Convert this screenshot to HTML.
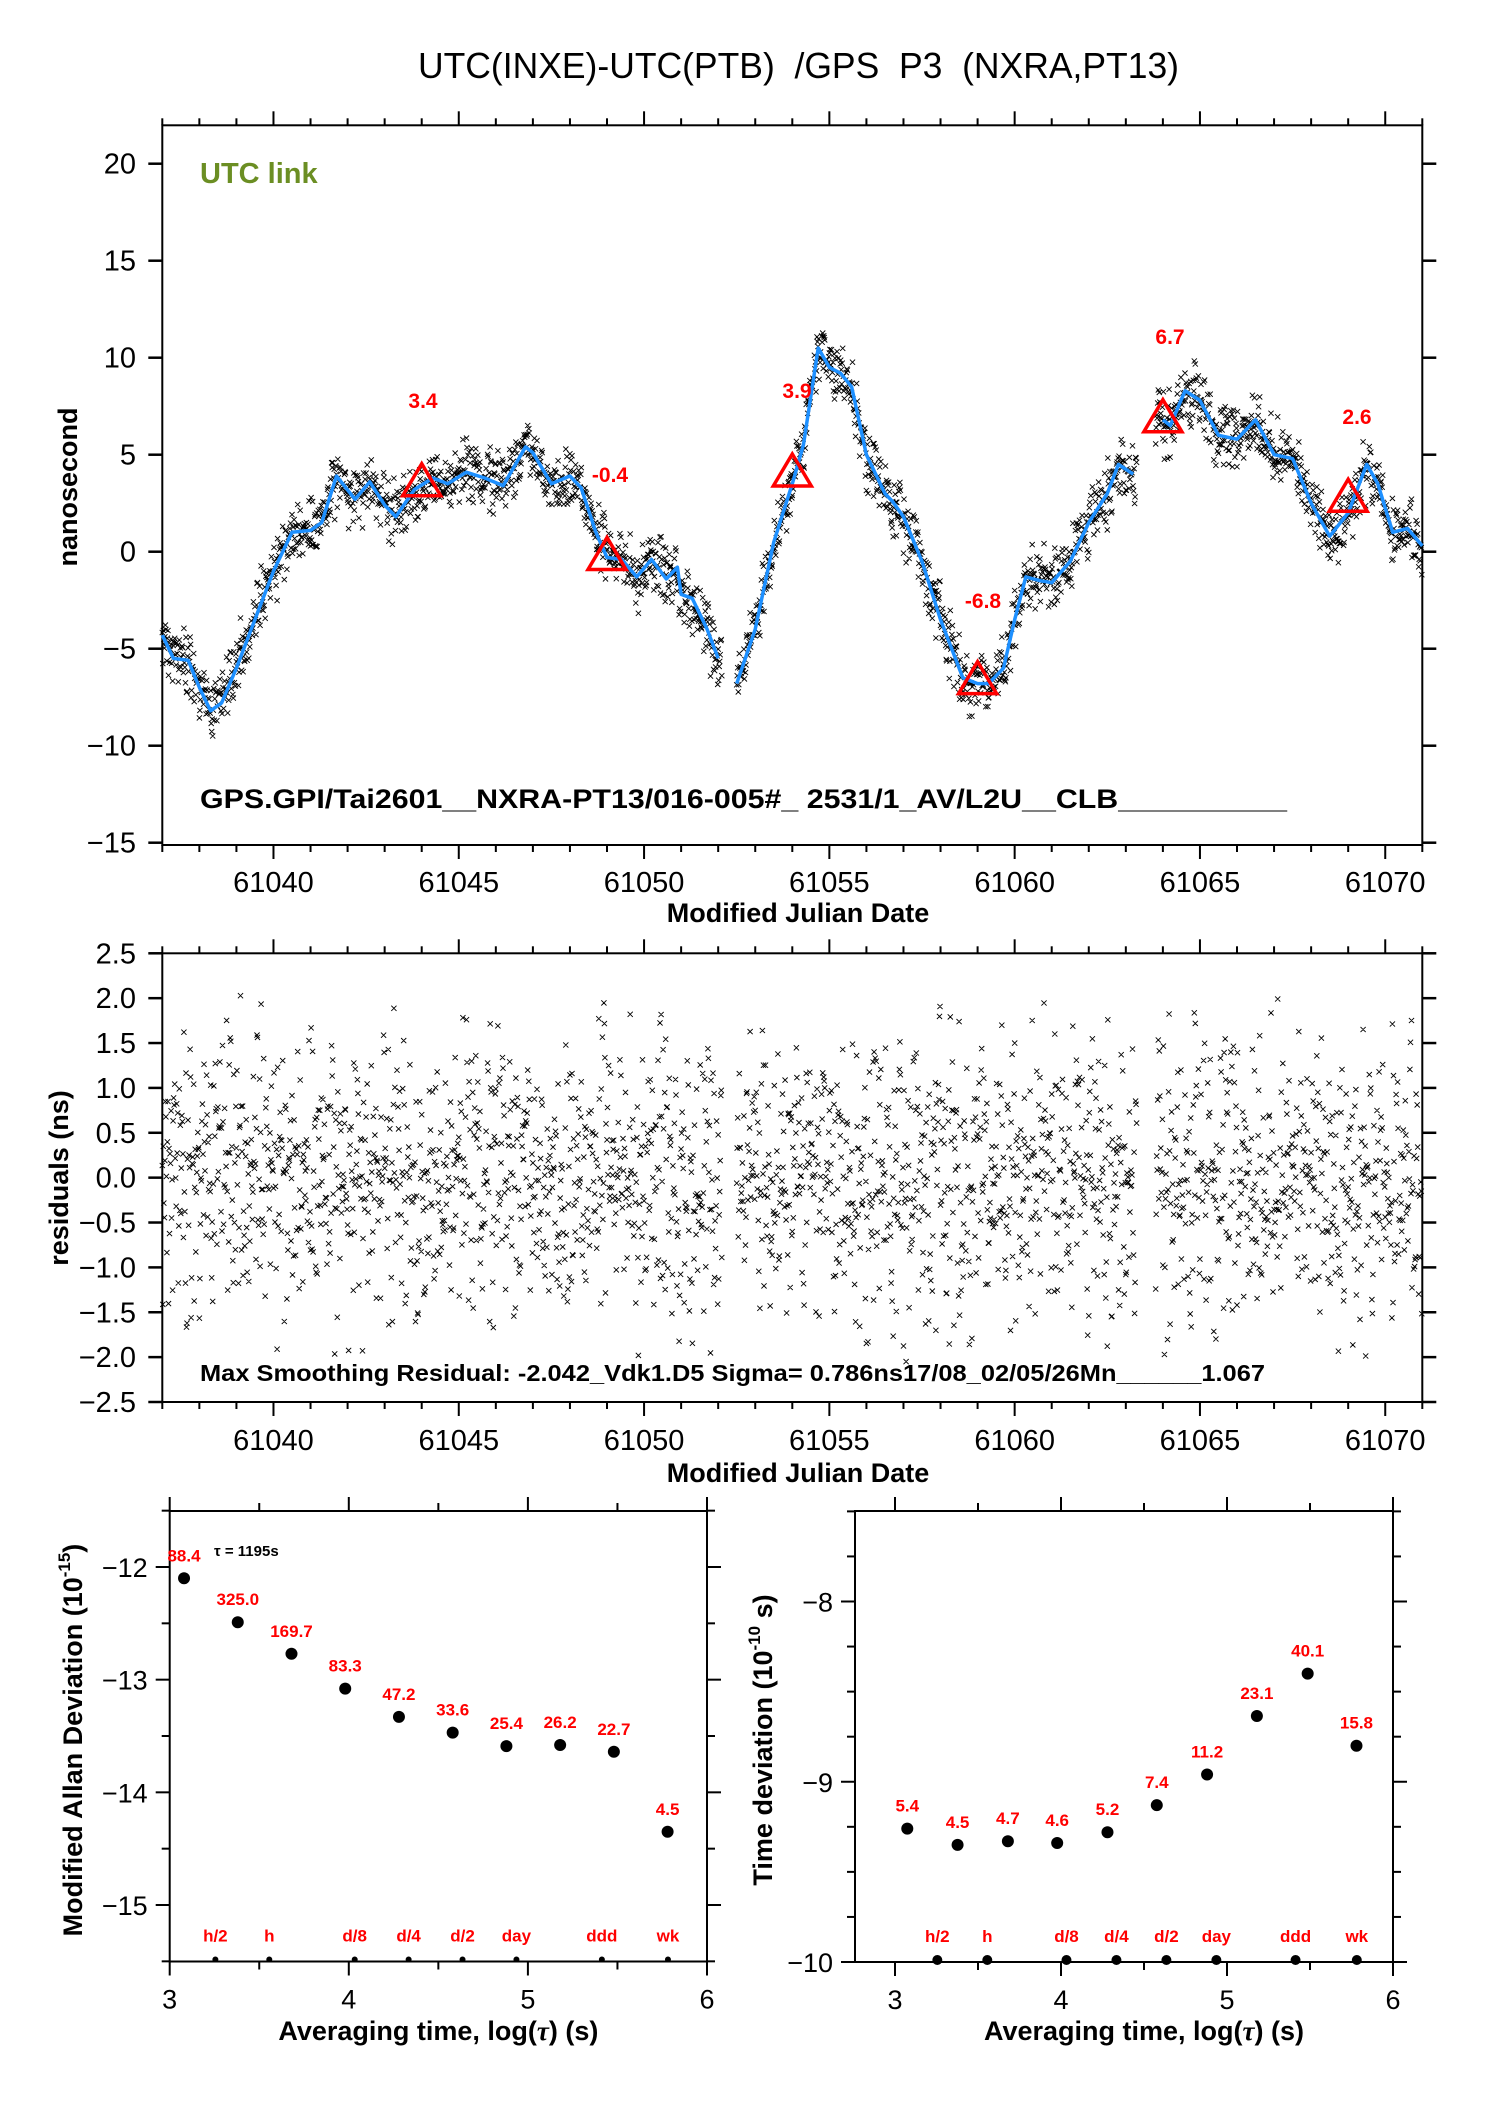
<!DOCTYPE html>
<html><head><meta charset="utf-8"><title>UTC(INXE)-UTC(PTB) GPS P3</title>
<style>
html,body{margin:0;padding:0;background:#fff;}
svg{display:block;font-family:"Liberation Sans",Arial,sans-serif;}
</style></head>
<body>
<svg id="fig" xmlns="http://www.w3.org/2000/svg" width="1488" height="2105" viewBox="0 0 1488 2105">
<rect width="1488" height="2105" fill="#fff"/>
<text x="418" y="78" font-size="36" textLength="761" lengthAdjust="spacingAndGlyphs" xml:space="preserve">UTC(INXE)-UTC(PTB)  /GPS  P3  (NXRA,PT13)</text>
<g id="top"></g>
<g id="mid"></g>
<g id="mdev"></g>
<g id="tdev"></g>
</svg>
<script>
// ---------- data ----------
const curveDays = [61037.0,61037.3,61037.7,61038.0,61038.3,61038.6,61039.0,61039.5,61040.0,61040.5,61041.0,61041.3,61041.7,61042.2,61042.6,61043.0,61043.3,61043.8,61044.3,61044.7,61045.2,61045.7,61046.2,61046.8,61047.0,61047.5,61048.0,61048.3,61048.7,61049.0,61049.4,61049.8,61050.2,61050.6,61050.9,61051.0,61051.3,61051.7,61052.0,61052.1,61052.5,61053.0,61053.5,61054.0,61054.3,61054.7,61055.0,61055.3,61055.6,61056.0,61056.5,61056.7,61057.0,61057.5,61058.0,61058.3,61058.6,61059.0,61059.3,61059.7,61060.0,61060.3,61060.7,61061.0,61061.5,61062.0,61062.5,61062.8,61063.2,61063.5,61064.0,61064.2,61064.6,61065.0,61065.5,61066.0,61066.5,61067.0,61067.5,61068.0,61068.5,61069.0,61069.5,61069.8,61070.2,61070.6,61071.0];
const curveNs   = [-4.3,-5.5,-5.6,-7.0,-8.2,-7.8,-6.0,-3.5,-1.0,1.0,1.1,1.5,3.9,2.7,3.6,2.4,1.8,3.2,3.8,3.5,4.1,3.8,3.4,5.4,5.1,3.5,3.9,3.3,1.0,-0.3,-0.4,-1.3,-0.4,-1.4,-0.8,-2.2,-2.4,-4.0,-5.5,null,-6.8,-4.0,0.5,3.5,5.5,10.5,9.5,9.2,8.5,5.0,3.0,2.6,1.8,-0.5,-3.5,-5.0,-6.5,-6.8,-6.8,-6.0,-3.5,-1.3,-1.5,-1.6,-0.5,1.5,3.0,4.5,4.0,null,6.8,6.5,8.3,7.8,6.0,5.8,6.8,5.0,4.8,2.5,0.8,2.0,4.5,3.5,1.0,1.2,0.3];
const dataGapsStart = [61052.1,61063.3];
const dataGapsEnd   = [61052.5,61063.8];
const triDays   = [61044,61049,61054,61059,61064,61069];
const triValues = [3.4,-0.4,3.9,-6.8,6.7,2.6];
const mdevLogTau = [3.08,3.38,3.68,3.98,4.28,4.58,4.88,5.18,5.48,5.78];
const mdevValues = [-12.10,-12.49,-12.77,-13.08,-13.33,-13.47,-13.59,-13.58,-13.64,-14.35];
const mdevLabels = ["88.4","325.0","169.7","83.3","47.2","33.6","25.4","26.2","22.7","4.5"];
const tdevLogTau = [3.074,3.377,3.68,3.977,4.28,4.577,4.88,5.18,5.486,5.78];
const tdevValues = [-9.26,-9.35,-9.33,-9.34,-9.28,-9.13,-8.96,-8.635,-8.40,-8.80];
const tdevLabels = ["5.4","4.5","4.7","4.6","5.2","7.4","11.2","23.1","40.1","15.8"];
const markLogTau = [3.255,3.556,4.033,4.334,4.635,4.936,5.413,5.782];
const markNames  = ["h/2","h","d/8","d/4","d/2","day","ddd","wk"];

// ---------- helpers ----------
const NS='http://www.w3.org/2000/svg';
function mk(parent,tag,attrs,txt){const e=document.createElementNS(NS,tag);for(const k in attrs)e.setAttribute(k,attrs[k]);if(txt!==undefined)e.textContent=txt;parent.appendChild(e);return e;}
function lin(d0,d1,p0,p1){return v=>p0+(v-d0)*(p1-p0)/(d1-d0);}

// ---------- time-series axes ----------
const L=162.3,R=1422.3;
const X=lin(61037,61071,L,R);
const topG=document.getElementById('top'), midG=document.getElementById('mid');
const Yt=lin(20,-15,163.7,842.7); const T0=125.3,T1=845;
const Ym=lin(2.5,-2.5,953.3,1402); const M0=953.3,M1=1402;

function frame(g,x0,y0,x1,y1){const r=mk(g,'rect',{x:x0,y:y0,width:x1-x0,height:y1-y0,fill:'none',stroke:'#000','stroke-width':2});
}
function dayTicks(g,y0,y1,labY){
  for(let d=61037;d<=61071;d++){const x=X(d);const maj=d%5===0;const len=maj?14:7;
    mk(g,'line',{x1:x,x2:x,y1:y0,y2:y0-len,stroke:'#000','stroke-width':2});
    mk(g,'line',{x1:x,x2:x,y1:y1,y2:y1+len,stroke:'#000','stroke-width':2});
    if(maj){const t=mk(g,'text',{x:x,y:labY,'font-size':29,'text-anchor':'middle'},String(d));
      }
  }
}
// top panel
frame(topG,L,T0,R,T1);
dayTicks(topG,T0,T1,892);
for(let v=-15;v<=20;v+=5){const y=Yt(v);
  mk(topG,'line',{x1:L,x2:L-14,y1:y,y2:y,stroke:'#000','stroke-width':2.5});
  mk(topG,'line',{x1:R,x2:R+14,y1:y,y2:y,stroke:'#000','stroke-width':2.5});
  const t=mk(topG,'text',{x:136,y:y+10,'font-size':29,'text-anchor':'end'},(v<0?'\u2212':'')+Math.abs(v));
  }
// mid panel
frame(midG,L,M0,R,M1);
dayTicks(midG,M0,M1,1450);
for(let v=-2.5;v<=2.51;v+=0.5){const y=Ym(v);
  mk(midG,'line',{x1:L,x2:L-14,y1:y,y2:y,stroke:'#000','stroke-width':2.5});
  mk(midG,'line',{x1:R,x2:R+14,y1:y,y2:y,stroke:'#000','stroke-width':2.5});
  const s=(v<-0.001?'\u2212':'')+Math.abs(v).toFixed(1);
  const t=mk(midG,'text',{x:136,y:y+10,'font-size':29,'text-anchor':'end'},s);
  }

// curve interpolation
function curveAt(t){for(let i=0;i<curveDays.length-1;i++){if(t>=curveDays[i]&&t<=curveDays[i+1]){
  let a=curveNs[i],b=curveNs[i+1];if(a===null)return b;if(b===null)return a;
  return a+(b-a)*(t-curveDays[i])/(curveDays[i+1]-curveDays[i]);}}return null;}
// residual noise texture (deterministic)
let seed=123456789;
function rnd(){seed^=seed<<13;seed^=seed>>>17;seed^=seed<<5;return ((seed>>>0)%100000)/100000;}
let dTop='',dMid='';
const step=1/72;
for(let t=61037.0;t<=61071;t+=step){
  let gap=false;for(let k=0;k<dataGapsStart.length;k++)if(t>dataGapsStart[k]&&t<dataGapsEnd[k])gap=true;
  if(gap)continue;
  const c=curveAt(t);if(c===null)continue;
  let r=(rnd()+rnd()+rnd()-1.5)*1.55;
  if(r>2.05)r=2.05;if(r<-2.05)r=-2.05;
  const x=X(t),y1=Yt(c+r),y2=Ym(r);const a=2.6;
  dTop+=`M${(x-a).toFixed(1)} ${(y1-a).toFixed(1)}l${2*a} ${2*a}m0 ${-2*a}l${-2*a} ${2*a}`;
  dMid+=`M${(x-a).toFixed(1)} ${(y2-a).toFixed(1)}l${2*a} ${2*a}m0 ${-2*a}l${-2*a} ${2*a}`;
}
const sp1=mk(topG,'path',{d:dTop,stroke:'#000','stroke-width':0.9,fill:'none'});

const sp2=mk(midG,'path',{d:dMid,stroke:'#000','stroke-width':0.9,fill:'none'});

// smooth curve
let segs=[],cur=[];
for(let i=0;i<curveDays.length;i++){if(curveNs[i]===null){if(cur.length)segs.push(cur);cur=[];continue;}
  cur.push(X(curveDays[i]).toFixed(1)+','+Yt(curveNs[i]).toFixed(1));}
if(cur.length)segs.push(cur);
segs.forEach(s=>{const p=mk(topG,'polyline',{points:s.join(' '),fill:'none',stroke:'#1e90ff','stroke-width':3.5,'stroke-linejoin':'round'});
  });
// triangles
const triLabelPos=[[423,408],[610,482],[797,398],[983,608],[1170,344],[1357,424]];
triDays.forEach((d,i)=>{const x=X(d),y=Yt(triValues[i]);
  const p=mk(topG,'polygon',{points:`${x},${y-22} ${x-19},${y+10} ${x+19},${y+10}`,fill:'none',stroke:'#ff0000','stroke-width':3.5});
  
  const t=mk(topG,'text',{x:triLabelPos[i][0],y:triLabelPos[i][1],'font-size':21,'font-weight':'bold',fill:'#ff0000','text-anchor':'middle'},triValues[i].toFixed(1));
  });
let t1=mk(topG,'text',{x:200,y:183,'font-size':29,'font-weight':'bold',fill:'#6b8e23'},'UTC link');

t1=mk(topG,'text',{x:200,y:808,'font-size':27,'font-weight':'bold',textLength:1087,lengthAdjust:'spacingAndGlyphs','xml:space':'preserve'},'GPS.GPI/Tai2601__NXRA-PT13/016-005#_  2531/1_AV/L2U__CLB__________');

t1=mk(topG,'text',{x:798,y:922,'font-size':27,'font-weight':'bold','text-anchor':'middle'},'Modified Julian Date');

t1=mk(topG,'text',{x:0,y:0,'font-size':27,'font-weight':'bold','text-anchor':'middle',transform:'translate(77,487) rotate(-90)'},'nanosecond');

t1=mk(midG,'text',{x:200,y:1381,'font-size':23,'font-weight':'bold',textLength:1065,lengthAdjust:'spacingAndGlyphs','xml:space':'preserve'},'Max Smoothing Residual: -2.042_Vdk1.D5  Sigma= 0.786ns17/08_02/05/26Mn______1.067');

t1=mk(midG,'text',{x:798,y:1482,'font-size':27,'font-weight':'bold','text-anchor':'middle'},'Modified Julian Date');

t1=mk(midG,'text',{x:0,y:0,'font-size':27,'font-weight':'bold','text-anchor':'middle',transform:'translate(68,1178) rotate(-90)'},'residuals (ns)');


// ---------- stability panels ----------
function stabPanel(g,cfg){
  const Xs=lin(3,6,cfg.x3,cfg.x6), Ys=lin(cfg.yA,cfg.yB,cfg.pA,cfg.pB);
  frame(g,cfg.left,cfg.top,cfg.x6,cfg.bot);
  for(let v=3;v<=6;v+=0.5){const x=Xs(v);const maj=Number.isInteger(v);const len=maj?14:8;
    mk(g,'line',{x1:x,x2:x,y1:cfg.top,y2:cfg.top-len,stroke:'#000','stroke-width':2});
    mk(g,'line',{x1:x,x2:x,y1:cfg.bot,y2:cfg.bot+len,stroke:'#000','stroke-width':2});
    if(maj){const t=mk(g,'text',{x:x,y:cfg.bot+47,'font-size':27,'text-anchor':'middle'},String(v));
      }}
  cfg.yTicks.forEach(v=>{const y=Ys(v);const maj=Number.isInteger(v);const len=maj?14:8;
    mk(g,'line',{x1:cfg.left,x2:cfg.left-len,y1:y,y2:y,stroke:'#000','stroke-width':2});
    mk(g,'line',{x1:cfg.x6,x2:cfg.x6+len,y1:y,y2:y,stroke:'#000','stroke-width':2});
    if(maj){const t=mk(g,'text',{x:cfg.left-22,y:y+10,'font-size':27,'text-anchor':'end'},'\u2212'+Math.abs(v));
      }});
  cfg.lt.forEach((lt,i)=>{const x=Xs(lt),y=Ys(cfg.vals[i]);
    const c=mk(g,'circle',{cx:x,cy:y,r:6,fill:'#000'});
    
    const t=mk(g,'text',{x:x,y:y-17,'font-size':17,'font-weight':'bold',fill:'#ff0000','text-anchor':'middle'},cfg.labs[i]);
    });
  markLogTau.forEach((lt,i)=>{const x=Xs(lt);
    const c=mk(g,'circle',{cx:x,cy:cfg.bot-2,r:cfg.mr,fill:'#000'});
    
    const t=mk(g,'text',{x:x,y:cfg.bot-20,'font-size':17,'font-weight':'bold',fill:'#ff0000','text-anchor':'middle'},markNames[i]);
    });
  const xt=mk(g,'text',{x:(cfg.x3+cfg.x6)/2,y:2040,'font-size':27,'font-weight':'bold','text-anchor':'middle'});
  
  xt.innerHTML='Averaging time, log(<tspan font-family="Liberation Serif" font-style="italic">\u03c4</tspan>) (s)';
  const yt=mk(g,'text',{x:0,y:0,'font-size':27,'font-weight':'bold','text-anchor':'middle',transform:`translate(${cfg.ylx},1740) rotate(-90)`});
  
  yt.innerHTML=cfg.ytitle;
}
stabPanel(document.getElementById('mdev'),{x3:169.7,x6:707,left:169.7,top:1511,bot:1961.5,yA:-12,yB:-15,pA:1567,pB:1905,
  yTicks:[-15.5,-15,-14.5,-14,-13.5,-13,-12.5,-12,-11.5],lt:mdevLogTau,vals:mdevValues,labs:mdevLabels,mr:3,ylx:82,
  ytitle:'Modified Allan Deviation (10<tspan font-size="17" dy="-12">-15</tspan><tspan dy="12">)</tspan>'});
stabPanel(document.getElementById('tdev'),{x3:895,x6:1393,left:855,top:1511,bot:1962,yA:-8,yB:-10,pA:1601.5,pB:1962,
  yTicks:[-10,-9.75,-9.5,-9.25,-9,-8.75,-8.5,-8.25,-8,-7.75,-7.5],lt:tdevLogTau,vals:tdevValues,labs:tdevLabels,mr:5,ylx:772,
  ytitle:'Time deviation (10<tspan font-size="17" dy="-12">-10</tspan><tspan dy="12"> s)</tspan>'});
let tau=mk(document.getElementById('mdev'),'text',{x:214,y:1556,'font-size':15,'font-weight':'bold'},'\u03c4 = 1195s');

</script>
</body></html>
